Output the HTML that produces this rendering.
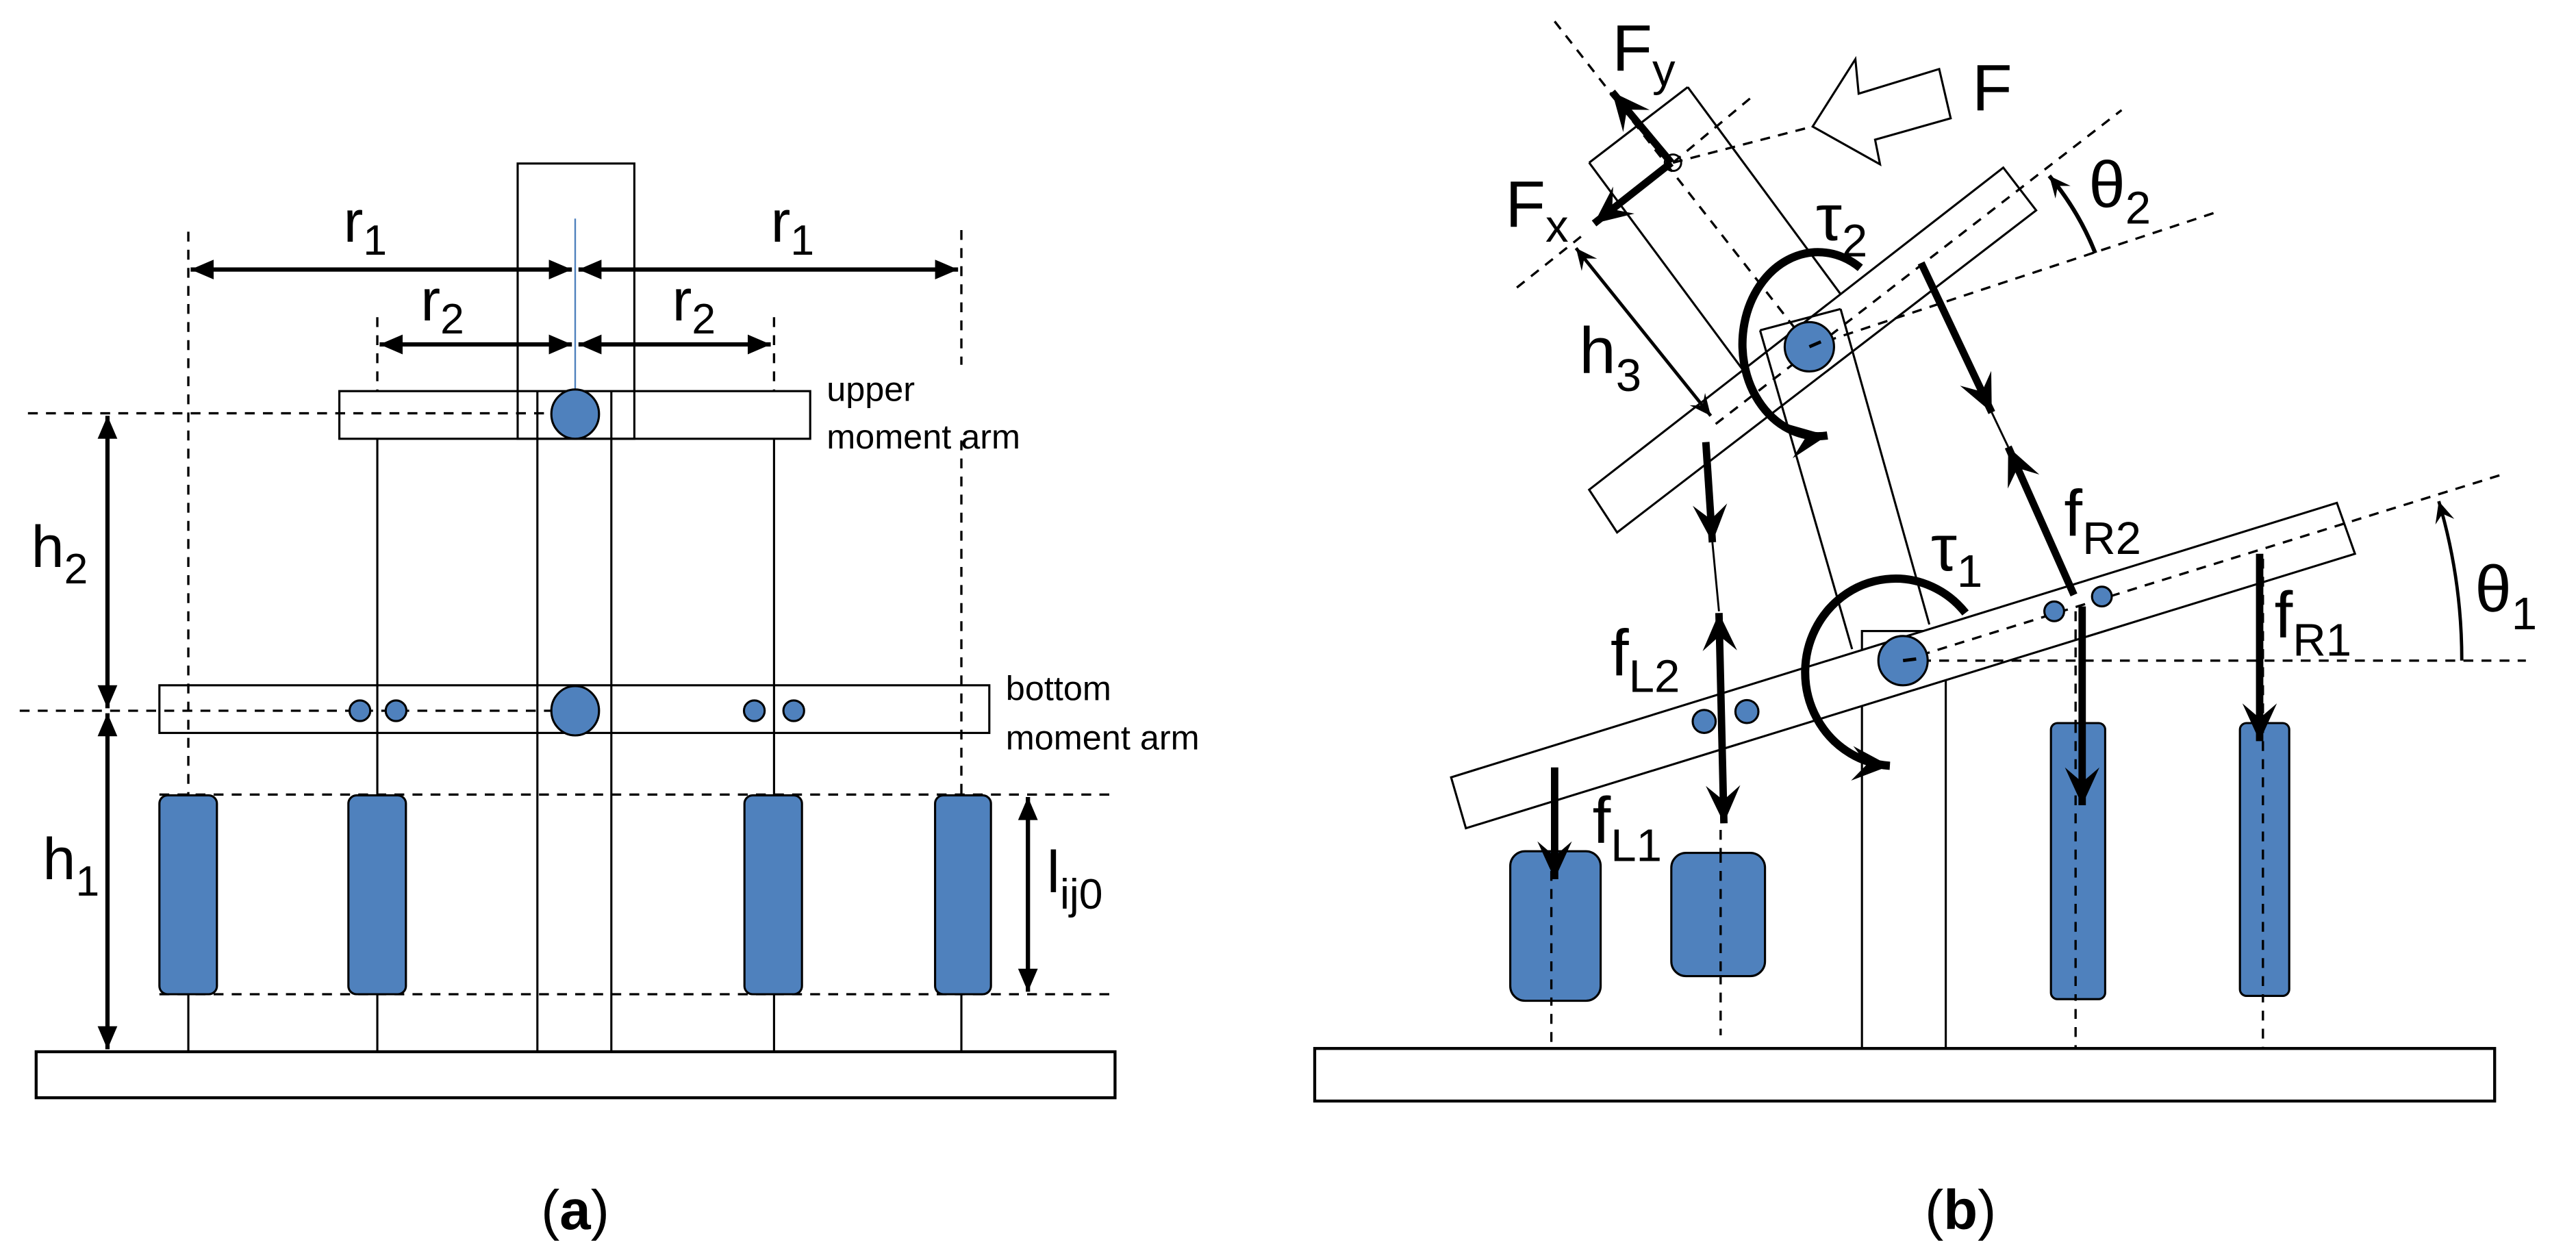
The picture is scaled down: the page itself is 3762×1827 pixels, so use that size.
<!DOCTYPE html>
<html><head><meta charset="utf-8"><style>
html,body{margin:0;padding:0;background:#fff;}
svg{display:block;}
text{font-family:"Liberation Sans",Arial,sans-serif;fill:#000;}
</style></head><body>
<svg width="3762" height="1827" viewBox="0 0 1567.5 761.25" xmlns="http://www.w3.org/2000/svg">
<defs>
<marker id="da" markerUnits="userSpaceOnUse" viewBox="-15 -7 16 14" markerWidth="16" markerHeight="14" refX="0" refY="0" orient="auto-start-reverse">
<path d="M0,0 L-14,-6 L-14,6 Z" fill="#000"/></marker>
<marker id="ba" markerUnits="userSpaceOnUse" viewBox="-24 -11 25 22" markerWidth="25" markerHeight="22" refX="0" refY="0" orient="auto-start-reverse">
<path d="M0,0 L-23,-10.5 L-14,0 L-23,10.5 Z" fill="#000"/></marker>
<marker id="sa" markerUnits="userSpaceOnUse" viewBox="-14 -7 15 14" markerWidth="15" markerHeight="14" refX="0" refY="0" orient="auto-start-reverse">
<path d="M0,0 L-13,-6 L-8,0 L-13,6 Z" fill="#000"/></marker>
</defs>

<!-- ============ PANEL A ============ -->
<g stroke="#000" fill="none" stroke-width="1.3">
<rect x="22" y="640" width="656.5" height="28" stroke-width="1.8"/>
<rect x="315" y="99.5" width="71" height="167.5"/>
<line x1="327" y1="238" x2="327" y2="640"/>
<line x1="372" y1="238" x2="372" y2="640"/>
<rect x="206.5" y="238" width="286.5" height="29"/>
<rect x="97" y="417" width="505" height="29"/>
<line x1="229.6" y1="267" x2="229.6" y2="640"/>
<line x1="471" y1="267" x2="471" y2="640"/>
<line x1="114.6" y1="605" x2="114.6" y2="640"/>
<line x1="585" y1="605" x2="585" y2="640"/>
</g>
<g stroke="#000" fill="none" stroke-width="1.4" stroke-dasharray="6,5">
<line x1="114.6" y1="141" x2="114.6" y2="484"/>
<line x1="585" y1="140" x2="585" y2="222"/>
<line x1="585" y1="268" x2="585" y2="484"/>
<line x1="229.6" y1="193" x2="229.6" y2="238"/>
<line x1="471" y1="193" x2="471" y2="238"/>
<line x1="17" y1="251.5" x2="345" y2="251.5"/>
<line x1="12" y1="432.5" x2="345" y2="432.5"/>
<line x1="97" y1="483.5" x2="675" y2="483.5"/>
<line x1="97" y1="605" x2="675" y2="605"/>
</g>
<line x1="350" y1="133" x2="350" y2="252" stroke="#4f81bd" stroke-width="1"/>
<g fill="#4f81bd" stroke="#000" stroke-width="1.3">
<ellipse cx="350" cy="252" rx="14.5" ry="15"/>
<ellipse cx="350" cy="432.5" rx="14.5" ry="15"/>
<circle cx="219" cy="432.5" r="6.3"/><circle cx="241" cy="432.5" r="6.3"/>
<circle cx="459" cy="432.5" r="6.3"/><circle cx="483" cy="432.5" r="6.3"/>
<rect x="97" y="484" width="35" height="121" rx="5"/>
<rect x="212" y="484" width="35" height="121" rx="5"/>
<rect x="453" y="484" width="35" height="121" rx="5"/>
<rect x="569" y="484" width="34" height="121" rx="5"/>
</g>
<g stroke="#000" stroke-width="2.6" fill="none">
<line x1="116" y1="164" x2="348" y2="164" marker-start="url(#da)" marker-end="url(#da)"/>
<line x1="352" y1="164" x2="583" y2="164" marker-start="url(#da)" marker-end="url(#da)"/>
<line x1="231" y1="209.6" x2="348" y2="209.6" marker-start="url(#da)" marker-end="url(#da)"/>
<line x1="352" y1="209.6" x2="469" y2="209.6" marker-start="url(#da)" marker-end="url(#da)"/>
<line x1="65.4" y1="253" x2="65.4" y2="431" marker-start="url(#da)" marker-end="url(#da)"/>
<line x1="65.4" y1="434" x2="65.4" y2="638.5" marker-start="url(#da)" marker-end="url(#da)"/>
<line x1="625.5" y1="485" x2="625.5" y2="603.5" marker-start="url(#da)" marker-end="url(#da)"/>
</g>
<g font-size="36">
<text x="209" y="147">r<tspan font-size="26" dy="8">1</tspan></text>
<text x="469" y="147">r<tspan font-size="26" dy="8">1</tspan></text>
<text x="256" y="195">r<tspan font-size="26" dy="8">2</tspan></text>
<text x="409" y="195">r<tspan font-size="26" dy="8">2</tspan></text>
<text x="19" y="345">h<tspan font-size="26" dy="10">2</tspan></text>
<text x="26" y="535">h<tspan font-size="26" dy="10">1</tspan></text>
<text x="637" y="543">l<tspan font-size="26" dy="10">ij0</tspan></text>
</g>
<g font-size="21">
<text x="503" y="244">upper</text>
<text x="503" y="273">moment arm</text>
<text x="612" y="426">bottom</text>
<text x="612" y="456">moment arm</text>
</g>
<text x="350" y="748" font-size="34" text-anchor="middle" font-family="Liberation Serif,serif">(<tspan font-weight="bold">a</tspan>)</text>

<!-- ============ PANEL B ============ -->
<g stroke="#000" fill="none" stroke-width="1.3">
<rect x="800" y="638" width="718" height="32" stroke-width="1.8"/>
<rect x="1133" y="384" width="51" height="254"/>
<polygon points="883,473 1422,306 1433,337 892,504" fill="#fff"/>
<line x1="1071" y1="201" x2="1127" y2="395"/>
<line x1="1120" y1="188" x2="1174" y2="380"/>
<line x1="1071" y1="201" x2="1120" y2="188"/>
<line x1="967" y1="99" x2="1027" y2="53"/>
<line x1="967" y1="99" x2="1060.5" y2="225"/>
<line x1="1027" y1="53" x2="1120" y2="179"/>
<polygon points="967,298 1219,102 1239,128 984,324"/>
<polygon points="1103,77 1129,36 1131,57 1180,42 1187,72 1141,85 1144,100" fill="#fff"/>
<circle cx="1018" cy="99" r="5" stroke-width="1.2"/>
</g>
<g stroke="#000" fill="none" stroke-width="1.4" stroke-dasharray="6,5">
<line x1="1158" y1="402" x2="1525" y2="288"/>
<line x1="1158" y1="402" x2="1537" y2="402"/>
<line x1="1044" y1="258" x2="1291" y2="67"/>
<line x1="1101" y1="211" x2="1349" y2="129"/>
<line x1="946" y1="13" x2="1101" y2="211"/>
<line x1="1018" y1="99" x2="1066" y2="59"/>
<line x1="1018" y1="99" x2="1103" y2="77"/>
<line x1="923" y1="175" x2="962" y2="144"/>
<line x1="944" y1="518" x2="944" y2="638"/>
<line x1="1047" y1="505" x2="1047" y2="630"/>
<line x1="1263" y1="372" x2="1263" y2="638"/>
<line x1="1377" y1="340" x2="1377" y2="638"/>
</g>
<g fill="#4f81bd" stroke="#000" stroke-width="1.3">
<rect x="919" y="518" width="55" height="91" rx="9"/>
<rect x="1017" y="519" width="57" height="75" rx="9"/>
<rect x="1248" y="440" width="33" height="168" rx="4"/>
<rect x="1363" y="440" width="30" height="166" rx="4"/>
<circle cx="1158" cy="402" r="15"/>
<circle cx="1101" cy="211" r="15"/>
<circle cx="1037" cy="439" r="7"/><circle cx="1063" cy="433" r="7"/>
<circle cx="1250" cy="372" r="6"/><circle cx="1279" cy="363" r="6"/>
</g>
<g stroke="#000" fill="none" stroke-width="1.4" stroke-dasharray="6,5">
<line x1="944" y1="530" x2="944" y2="609"/>
<line x1="1047" y1="519" x2="1047" y2="594"/>
<line x1="1263" y1="440" x2="1263" y2="608"/>
<line x1="1377" y1="440" x2="1377" y2="606"/>
</g>
<line x1="1158" y1="402" x2="1166" y2="401" stroke="#000" stroke-width="2"/>
<line x1="1101" y1="211" x2="1108" y2="208" stroke="#000" stroke-width="2"/>
<g stroke="#000" stroke-width="1.2" fill="none">
<line x1="1042" y1="330" x2="1046" y2="372"/>
<line x1="1212" y1="251" x2="1222" y2="272"/>
</g>
<g stroke="#000" stroke-width="4.5" fill="none">
<line x1="1017" y1="99" x2="981" y2="56" marker-end="url(#ba)"/>
<line x1="1017" y1="99" x2="970" y2="136" marker-end="url(#ba)"/>
<line x1="1038" y1="269" x2="1042" y2="330" marker-end="url(#ba)"/>
<line x1="1046" y1="373" x2="1049" y2="501" marker-start="url(#ba)" marker-end="url(#ba)"/>
<line x1="946" y1="467" x2="946" y2="535" marker-end="url(#ba)"/>
<line x1="1169" y1="160" x2="1212" y2="251" marker-end="url(#ba)"/>
<line x1="1262" y1="362" x2="1222" y2="272" marker-end="url(#ba)"/>
<line x1="1267" y1="369" x2="1267" y2="490" marker-end="url(#ba)"/>
<line x1="1375" y1="337" x2="1375" y2="451" marker-end="url(#ba)"/>
<path d="M1132,163 A46 56 0 1 0 1112,265" stroke-width="5" marker-end="url(#ba)"/>
<path d="M1196,373 A55 57 0 1 0 1150,466" stroke-width="5" marker-end="url(#ba)"/>
</g>
<g stroke="#000" stroke-width="2" fill="none">
<line x1="959" y1="151" x2="1041" y2="253" marker-start="url(#sa)" marker-end="url(#sa)"/>
<path d="M1498,402 A340 340 0 0 0 1484,305" marker-end="url(#sa)"/>
<path d="M1275,154 A172 172 0 0 0 1247,107" stroke-width="2.5" marker-end="url(#sa)"/>
</g>
<g font-size="40">
<text x="981" y="43">F<tspan font-size="28" dy="9">y</tspan></text>
<text x="916" y="138">F<tspan font-size="28" dy="9">x</tspan></text>
<text x="1200" y="67">F</text>
<text x="1105" y="146">τ<tspan font-size="28" dy="10">2</tspan></text>
<text x="961" y="227">h<tspan font-size="28" dy="11">3</tspan></text>
<text x="1271" y="126">θ<tspan font-size="28" dy="10">2</tspan></text>
<text x="1175" y="347">τ<tspan font-size="28" dy="10">1</tspan></text>
<text x="1256" y="326">f<tspan font-size="28" dy="11">R2</tspan></text>
<text x="980" y="411">f<tspan font-size="28" dy="10">L2</tspan></text>
<text x="1506" y="372">θ<tspan font-size="28" dy="11">1</tspan></text>
<text x="1384" y="388">f<tspan font-size="28" dy="11">R1</tspan></text>
<text x="969" y="513">f<tspan font-size="28" dy="11">L1</tspan></text>
</g>
<text x="1193" y="748" font-size="34" text-anchor="middle" font-family="Liberation Serif,serif">(<tspan font-weight="bold">b</tspan>)</text>
</svg>
</body></html>
